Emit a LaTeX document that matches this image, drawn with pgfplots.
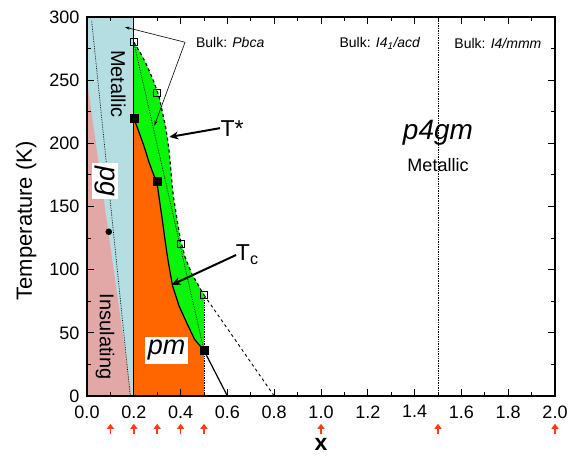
\documentclass[border=0pt]{standalone}
\usepackage{pgfplots}
\pgfplotsset{compat=1.18}
\usepackage{fontspec}
\setmainfont{Liberation Sans}
\usetikzlibrary{arrows.meta}
\definecolor{metblue}{RGB}{180,222,226}
\definecolor{inspink}{RGB}{226,168,168}
\definecolor{tgreen}{RGB}{10,245,10}
\definecolor{pmorange}{RGB}{255,102,0}
\definecolor{arrred}{RGB}{255,60,20}
\begin{document}
\begin{tikzpicture}
\useasboundingbox (0,0) rectangle (569pt,457pt);
\begin{axis}[
  at={(87pt,61pt)}, anchor=south west,
  scale only axis, width=468pt, height=379pt,
  xmin=0, xmax=2, ymin=0, ymax=300,
  clip=false, axis on top,
  xtick={0,0.2,0.4,0.6,0.8,1.0,1.2,1.4,1.6,1.8,2.0},
  ytick={0,50,100,150,200,250,300},
  minor x tick num=1, minor y tick num=1,
  tick align=inside, major tick length=7pt, minor tick length=4pt,
  axis line style={line width=1.3pt},
  every tick/.style={black, line width=0.9pt},
  /pgf/number format/assume math mode=true,
  tick label style={font=\fontsize{18}{20}\selectfont},
  x tick label style={yshift=-6pt,/pgf/number format/.cd,fixed,fixed zerofill,precision=1,/tikz/.cd},
  y tick label style={xshift=-4pt,/pgf/number format/.cd,fixed,precision=0,/tikz/.cd},
  xlabel={\textbf{x}},
  xlabel style={at={(axis description cs:0.5,-0.128)}, anchor=center, inner sep=0pt, font=\fontsize{23}{24}\selectfont},
  ylabel={Temperature (K)},
  ylabel style={at={(axis description cs:-0.13,0.462)}, anchor=center, font=\fontsize{22}{24}\selectfont},
]
% regions
\addplot[draw=none, fill=metblue] coordinates {(0,0) (0.2,0) (0.2,300) (0,300)} --cycle;
\addplot[draw=none, fill=inspink] coordinates {(0,0) (0.19,0) (0,250)} --cycle;
\addplot[draw=none, fill=pmorange] coordinates {(0.2,0) (0.5,0) (0.5,36) (0.459,45) (0.426,58) (0.394,71) (0.366,87) (0.356,97) (0.344,110) (0.333,124) (0.323,138) (0.312,152) (0.3,168) (0.283,176) (0.265,185) (0.245,197) (0.22,210) (0.2,220)} --cycle;
\addplot[draw=none, fill=tgreen] coordinates {(0.2,280) (0.23,271) (0.255,262) (0.283,250) (0.308,237) (0.323,224) (0.338,211) (0.349,197) (0.356,184) (0.362,171) (0.369,158) (0.376,150) (0.387,137) (0.4,123) (0.419,110) (0.447,97) (0.487,84) (0.5,80) (0.5,36) (0.459,45) (0.426,58) (0.394,71) (0.366,87) (0.356,97) (0.344,110) (0.333,124) (0.323,138) (0.312,152) (0.3,168) (0.283,176) (0.265,185) (0.245,197) (0.22,210) (0.2,220)} --cycle;
% lines
\addplot[black, line width=0.7pt, densely dotted] coordinates {(0.02,297) (0.185,0)};
\addplot[black, line width=0.7pt, densely dotted] coordinates {(0.2,280) (0.5,36)};
\addplot[black, line width=0.7pt, densely dotted] coordinates {(0.5,0) (0.5,80)};
\addplot[black, line width=0.7pt, densely dotted] coordinates {(1.5,0) (1.5,300)};
\addplot[black, line width=1.2pt] coordinates {(0.2,0) (0.2,300)};
\addplot[black, line width=1.2pt] coordinates {(0.2,220) (0.22,210) (0.245,197) (0.265,185) (0.283,176) (0.3,168) (0.312,152) (0.323,138) (0.333,124) (0.344,110) (0.356,97) (0.366,87) (0.394,71) (0.426,58) (0.459,45) (0.5,36)};
\addplot[black, line width=1.2pt] coordinates {(0.5,36) (0.6,0)};
\addplot[black, line width=1.2pt, dashed] coordinates {(0.2,280) (0.23,271) (0.255,262) (0.283,250) (0.308,237) (0.323,224) (0.338,211) (0.349,197) (0.356,184) (0.362,171) (0.369,158) (0.376,150) (0.387,137) (0.4,123) (0.419,110) (0.447,97) (0.487,84) (0.5,80)};
\addplot[black, line width=0.9pt, dashed] coordinates {(0.5,80) (0.8,0)};
% annotation arrows
\addplot[black, line width=0.6pt, -{Stealth[length=5pt,width=3pt]}] coordinates {(0.419,280) (0.162,292)};
\addplot[black, line width=0.6pt, -{Stealth[length=5pt,width=3pt]}] coordinates {(0.419,280) (0.288,214)};
\addplot[black, line width=2pt, -{Stealth[length=9pt,width=8pt]}] coordinates {(0.568,212) (0.352,205)};
\addplot[black, line width=2pt, -{Stealth[length=9pt,width=8pt]}] coordinates {(0.637,111.6) (0.362,88)};
% markers
\addplot[only marks, mark=square, mark size=3.5pt, black, line width=0.8pt] coordinates {(0.2,280) (0.3,240) (0.4,120) (0.5,80)};
\addplot[only marks, mark=square*, mark size=4pt, black] coordinates {(0.2,220) (0.3,170) (0.5,36)};
\addplot[only marks, mark=*, mark size=3pt, black] coordinates {(0.093,130)};
% red arrows below axis
\addplot[arrred, line width=1.6pt, mark=none, -{Triangle[length=5pt,width=7pt]}, quiver={u=0,v=8}] coordinates {(0.1,-30) (0.2,-30) (0.3,-30) (0.4,-30) (0.5,-30) (1.0,-30) (1.5,-30) (2.0,-30)};
% texts
\node[anchor=west, font=\fontsize{14}{16}\selectfont] at (axis cs:0.451,280) {Bulk: \textit{Pbca}};
\node[font=\fontsize{14}{16}\selectfont] at (axis cs:1.252,279) {Bulk: \textit{I4\textsubscript{1}/acd}};
\node[font=\fontsize{14}{16}\selectfont] at (axis cs:1.756,279) {Bulk: \textit{I4/mmm}};
\node[font=\fontsize{28}{30}\selectfont\itshape] at (axis cs:1.5,208) {p4gm};
\node[font=\fontsize{18}{20}\selectfont] at (axis cs:1.5,183) {Metallic};
\node[font=\fontsize{23}{25}\selectfont] at (axis cs:0.62,212) {T*};
\node[font=\fontsize{23}{25}\selectfont] at (axis cs:0.685,112) {T\textsubscript{c}};
\node[fill=white, inner sep=3pt, font=\fontsize{27}{29}\selectfont\itshape] at (axis cs:0.34,36) {pm};
\node[fill=white, inner sep=3pt, rotate=-90, font=\fontsize{27}{29}\selectfont\itshape] at (axis cs:0.077,170) {pg};
\node[rotate=-90, font=\fontsize{20}{22}\selectfont] at (axis cs:0.134,247) {Metallic};
\node[rotate=-90, font=\fontsize{20}{22}\selectfont] at (axis cs:0.077,47) {Insulating};
\end{axis}
\end{tikzpicture}
\end{document}
